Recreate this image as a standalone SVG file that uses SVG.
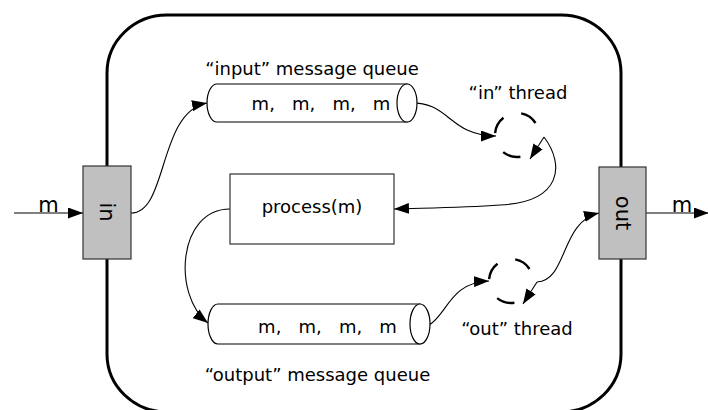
<svg xmlns="http://www.w3.org/2000/svg" width="708" height="410" viewBox="0 0 708 410">
<style>
text{font-family:"DejaVu Sans","Liberation Sans",sans-serif;fill:#000}
.lbl{font-size:18px;text-anchor:middle}
.port{fill:#c0c0c0;stroke:#333;stroke-width:1.2}
.box{fill:#fff;stroke:#333;stroke-width:1.2}
.conn{fill:none;stroke:#000;stroke-width:1.1}
.arw{marker-end:url(#ah)}
.cyl{fill:#fff;stroke:#000;stroke-width:1.2}
.dash{fill:none;stroke:#000;stroke-width:2.4}
</style>
<defs>
<marker id="ah" markerUnits="userSpaceOnUse" markerWidth="16" markerHeight="11" refX="15" refY="5.5" orient="auto">
<path d="M0,0 L15,5.5 L0,11 z" fill="#000"/>
</marker>
<g id="spin">
<path class="dash" d="M4.2,-21.6 A22,22 0 0 1 18.5,-12"/>
<path class="dash" d="M-21.9,-1.9 A22,22 0 0 1 -13.5,-17.3"/>
<path class="dash" d="M3.4,21.7 A22,22 0 0 1 -13.8,17.1"/>
</g>
</defs>
<rect id="container" x="107" y="15" width="514" height="397" rx="60" ry="58" fill="none" stroke="#000" stroke-width="3"/>
<g id="connectors">
<path class="conn arw" d="M14,213 L83,213"/>
<path class="conn arw" d="M646,213 L709,213"/>
<path class="conn arw" d="M131,213 C168,213 158,112 207,103"/>
<path class="conn arw" d="M407,103 C450,100 448,136 496,136"/>
<path class="conn arw" d="M544,137 L530,159"/>
<path class="conn arw" d="M544,137 C565,165 562,202 500,205 C460,208 420,208 394,209"/>
<path class="conn arw" d="M230,209 C178,209 172,295 208,323"/>
<path class="conn arw" d="M410,330 C450,330 440,283 489,281"/>
<path class="conn arw" d="M537,282 L523,304"/>
<path class="conn arw" d="M537,282 C568,280 560,222 599,213"/>
</g>
<g id="in-port">
<rect class="port" x="83" y="166" width="48" height="93"/>
<text x="107" y="212" font-size="21" text-anchor="middle" dominant-baseline="central" transform="rotate(90 107 212)">in</text>
</g>
<g id="out-port">
<rect class="port" x="599" y="167" width="47" height="92"/>
<text x="622.5" y="213" font-size="21" text-anchor="middle" dominant-baseline="central" transform="rotate(90 622.5 213)">out</text>
</g>
<g id="m-in"><text x="48.5" y="212" font-size="21" text-anchor="middle">m</text></g>
<g id="m-out"><text x="682" y="212" font-size="21" text-anchor="middle">m</text></g>
<g id="input-queue">
<path class="cyl" d="M217,84 L407,84 L407,122 L217,122 A10,19 0 0 1 217,84 z"/>
<ellipse class="cyl" cx="407" cy="103" rx="10" ry="19"/>
<text class="lbl" x="321" y="110" xml:space="preserve" font-size="17">m,   m,   m,   m</text>
<text class="lbl" x="312" y="75">“input” message queue</text>
</g>
<g id="output-queue">
<path class="cyl" d="M218,304 L420,304 L420,344 L218,344 A10,20 0 0 1 218,304 z"/>
<ellipse class="cyl" cx="420" cy="324" rx="10" ry="20"/>
<text class="lbl" x="327.5" y="333" xml:space="preserve" font-size="17">m,   m,   m,   m</text>
<text class="lbl" x="317.5" y="381">“output” message queue</text>
</g>
<g id="process">
<rect class="box" x="230" y="174" width="164" height="70"/>
<text class="lbl" x="312" y="213">process(m)</text>
</g>
<g id="in-thread">
<use href="#spin" transform="translate(517,135)"/>
<text class="lbl" x="518" y="99">“in” thread</text>
</g>
<g id="out-thread">
<use href="#spin" transform="translate(511,281)"/>
<text class="lbl" x="517" y="335">“out” thread</text>
</g>
</svg>
